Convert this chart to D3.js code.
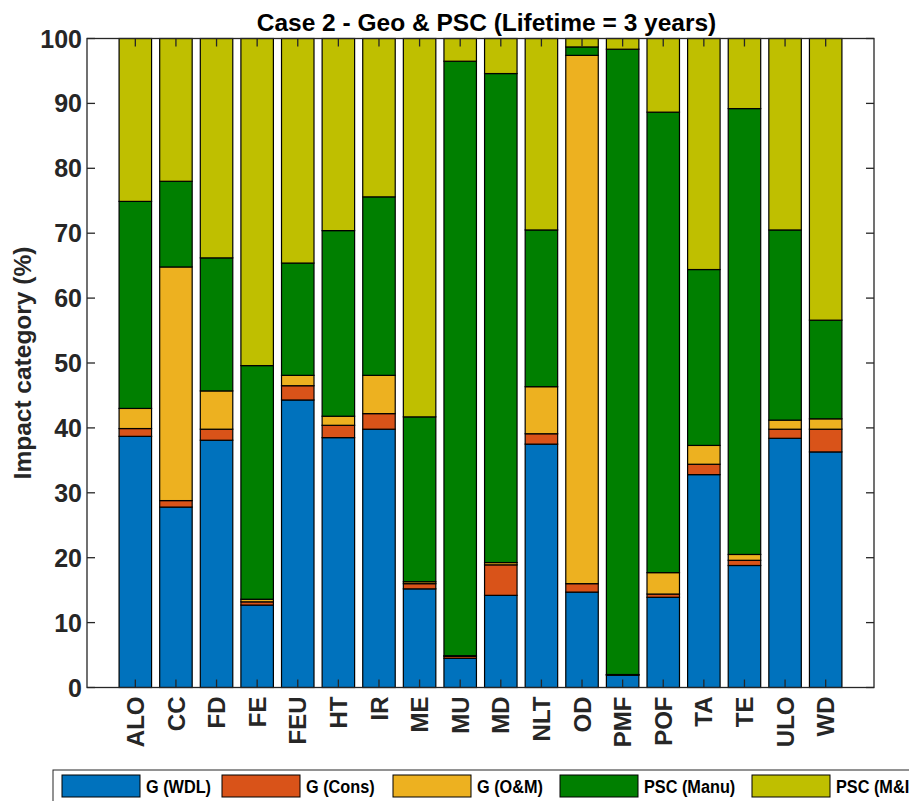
<!DOCTYPE html>
<html>
<head>
<meta charset="utf-8">
<script src="https://cdn.jsdelivr.net/npm/d3@7"></script>
<style>
  html, body { margin: 0; padding: 0; background: #fff; }
  svg { display: block; font-family: "Liberation Sans", Arial, sans-serif; }
</style>
</head>
<body>
<svg id="chart" width="909" height="801"></svg>
<script>
// Impact categories (x axis)
const categories = ["ALO","CC","FD","FE","FEU","HT","IR","ME","MU","MD","NLT","OD","PMF","POF","TA","TE","ULO","WD"];

// Contribution of each life-cycle stage, % of each impact category
const gWDL    = [38.7, 27.8, 38.1, 12.7, 44.3, 38.5, 39.8, 15.2,  4.5, 14.2, 37.5, 14.7,  1.9, 13.9, 32.8, 18.8, 38.4, 36.3];
const gCons   = [ 1.2,  1.0,  1.7,  0.5,  2.2,  1.9,  2.4,  0.8,  0.3,  4.7,  1.6,  1.3,  0.05, 0.5,  1.6,  0.8,  1.4,  3.5];
const gOM     = [ 3.1, 36.0,  5.9,  0.4,  1.6,  1.4,  5.9,  0.3,  0.1,  0.35, 7.25, 81.4, 0.05, 3.3,  2.9,  0.9,  1.4,  1.6];
const pscManu = [31.9, 13.2, 20.5, 36.0, 17.3, 28.6, 27.5, 25.4, 91.6, 75.35, 24.15, 1.3, 96.35, 70.95, 27.1, 68.7, 29.3, 15.2];
const pscMI   = [25.1, 22.0, 33.8, 50.4, 34.6, 29.6, 24.4, 58.3,  3.5,  5.4, 29.5,  1.3,  1.65, 11.35, 35.6, 10.8, 29.5, 43.4];

const seriesNames = ["G (WDL)", "G (Cons)", "G (O&M)", "PSC (Manu)", "PSC (M&I)"];
const seriesColors = ["#0072BD", "#D95319", "#EDB120", "#007F00", "#BFBF00"];
const yTicks = [0, 10, 20, 30, 40, 50, 60, 70, 80, 90, 100];

const title = "Case 2 - Geo & PSC (Lifetime = 3 years)";
const yLabel = "Impact category (%)";

const seriesValues = [gWDL, gCons, gOM, pscManu, pscMI];
const rows = categories.map((c, i) => {
  const r = { cat: c };
  seriesNames.forEach((s, k) => { r[s] = seriesValues[k][i]; });
  return r;
});

const svg = d3.select("#chart");
const plot = { left: 87, right: 874, top: 38.5, bottom: 687.5 };
const axisColor = "#262626";

const x = d3.scaleLinear()
  .domain([1 - 1.19, categories.length + 1.19])
  .range([plot.left, plot.right]);
const barW = 0.8;
const y = d3.scaleLinear().domain([0, 100]).range([plot.bottom, plot.top]);

const stacked = d3.stack().keys(seriesNames)(rows);

// stacked bars
const g = svg.append("g");
stacked.forEach((layer, k) => {
  g.selectAll(null)
    .data(layer)
    .join("rect")
    .attr("x", (d, i) => x(i + 1 - barW / 2))
    .attr("width", x(barW) - x(0))
    .attr("y", d => y(d[1]))
    .attr("height", d => y(d[0]) - y(d[1]))
    .attr("fill", seriesColors[k])
    .attr("stroke", "#000")
    .attr("stroke-width", 1.2);
});

// axes box with inward ticks on all four sides
const tickLen = 8;
const ax = svg.append("g").attr("stroke", axisColor).attr("stroke-width", 1.3).attr("fill", "none");
ax.append("rect")
  .attr("x", plot.left).attr("y", plot.top)
  .attr("width", plot.right - plot.left).attr("height", plot.bottom - plot.top);

yTicks.forEach(t => {
  ax.append("line").attr("x1", plot.left).attr("x2", plot.left + tickLen).attr("y1", y(t)).attr("y2", y(t));
  ax.append("line").attr("x1", plot.right).attr("x2", plot.right - tickLen).attr("y1", y(t)).attr("y2", y(t));
});
categories.forEach((c, i) => {
  ax.append("line").attr("x1", x(i + 1)).attr("x2", x(i + 1)).attr("y1", plot.bottom).attr("y2", plot.bottom - tickLen);
  ax.append("line").attr("x1", x(i + 1)).attr("x2", x(i + 1)).attr("y1", plot.top).attr("y2", plot.top + tickLen);
});

// y tick labels
svg.append("g").selectAll("text")
  .data(yTicks).join("text")
  .attr("x", plot.left - 5)
  .attr("y", d => y(d))
  .attr("dy", "0.36em")
  .attr("text-anchor", "end")
  .attr("font-size", 25)
  .attr("font-weight", "bold")
  .attr("fill", axisColor)
  .text(d => d);

// x tick labels, rotated
svg.append("g").selectAll("text")
  .data(categories).join("text")
  .attr("transform", (d, i) => `translate(${x(i + 1)},${plot.bottom + 9}) rotate(-90)`)
  .attr("dy", "0.36em")
  .attr("text-anchor", "end")
  .attr("font-size", 24)
  .attr("font-weight", "bold")
  .attr("fill", axisColor)
  .text(d => d);

// y axis title
svg.append("text")
  .attr("transform", `translate(31,${(plot.top + plot.bottom) / 2}) rotate(-90)`)
  .attr("text-anchor", "middle")
  .attr("font-size", 24.5)
  .attr("font-weight", "bold")
  .attr("fill", axisColor)
  .text(yLabel);

// chart title
svg.append("text")
  .attr("x", (plot.left + plot.right) / 2 + 6)
  .attr("y", 31)
  .attr("text-anchor", "middle")
  .attr("font-size", 24.5)
  .attr("font-weight", "bold")
  .attr("fill", "#000")
  .text(title);

// legend (box runs past the right edge of the figure)
const leg = svg.append("g");
leg.append("rect")
  .attr("x", 53).attr("y", 770).attr("width", 880).attr("height", 40)
  .attr("fill", "#fff").attr("stroke", axisColor).attr("stroke-width", 1);
const legX = [62, 222, 393, 560, 752];
seriesNames.forEach((s, k) => {
  leg.append("rect")
    .attr("x", legX[k]).attr("y", 775).attr("width", 78).attr("height", 22)
    .attr("fill", seriesColors[k]).attr("stroke", "#000").attr("stroke-width", 1);
  leg.append("text")
    .attr("transform", `translate(${legX[k] + 84},786) scale(0.88,1)`)
    .attr("dy", "0.36em")
    .attr("font-size", 18.5)
    .attr("font-weight", "bold")
    .attr("fill", "#000")
    .text(s);
});
</script>
</body>
</html>
